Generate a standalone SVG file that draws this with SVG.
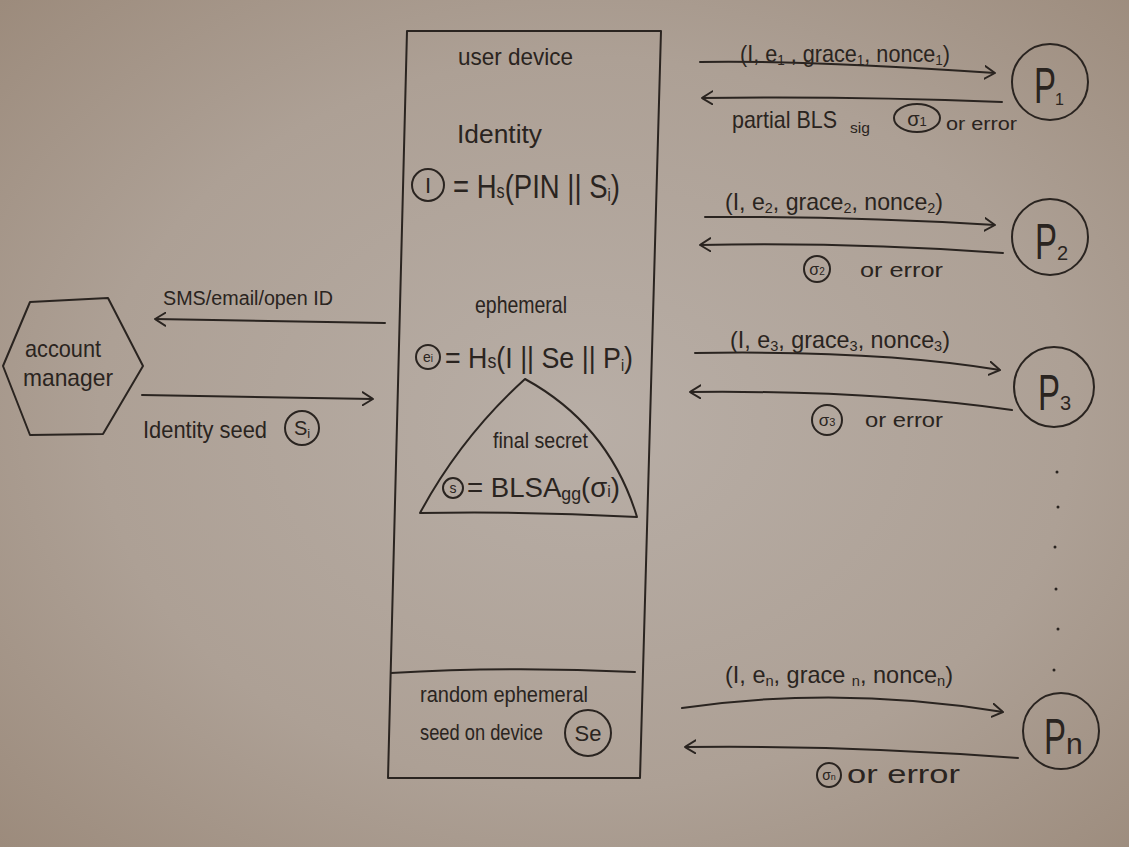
<svg xmlns="http://www.w3.org/2000/svg" width="1129" height="847" viewBox="0 0 1129 847">
  <defs>
    <radialGradient id="paper" cx="52%" cy="50%" r="72%">
      <stop offset="0" stop-color="#b8aea6"/>
      <stop offset="0.6" stop-color="#ada095"/>
      <stop offset="1" stop-color="#9c8b7c"/>
    </radialGradient>
    <marker id="head" viewBox="0 0 10 14" refX="10" refY="7" markerWidth="11" markerHeight="15" markerUnits="userSpaceOnUse" orient="auto">
      <path d="M0,0.8 L10,7 L0,13.2" fill="none" stroke="#2a2420" stroke-width="1.8" stroke-linecap="round" stroke-linejoin="round"/>
    </marker>
  </defs>
  <style>
    .ink { fill: none; stroke: #2a2420; stroke-width: 2; stroke-linecap: round; stroke-linejoin: round; }
    .arrow { fill: none; stroke: #2a2420; stroke-width: 2; stroke-linecap: round; marker-end: url(#head); }
    text { font-family: "Liberation Sans", "DejaVu Sans", sans-serif; fill: #2a2420; }
    .c { text-anchor: middle; }
    .sub { baseline-shift: -3px; }
  </style>

  <rect width="1129" height="847" fill="url(#paper)"/>

  <!-- account manager -->
  <g id="account-manager">
    <polygon class="ink" points="30,302 108,298 143,366 103,434 30,435 3,366"/>
    <text x="25" y="357" font-size="24" textLength="76" lengthAdjust="spacingAndGlyphs">account</text>
    <text x="23" y="386" font-size="24" textLength="90" lengthAdjust="spacingAndGlyphs">manager</text>
  </g>

  <!-- user device -->
  <g id="user-device">
    <polygon class="ink" points="407,31 661,31 640,778 388,778"/>
    <path class="ink" d="M391,673 Q510,666 635,672"/>
    <text x="458" y="65" font-size="24" textLength="115" lengthAdjust="spacingAndGlyphs">user device</text>

    <text x="457" y="143" font-size="26" textLength="85" lengthAdjust="spacingAndGlyphs">Identity</text>
    <circle class="ink" cx="428" cy="185" r="16"/>
    <text class="c" x="428" y="193" font-size="22">I</text>
    <text x="453" y="198" font-size="34" textLength="167" lengthAdjust="spacingAndGlyphs">= H<tspan font-size="20">s</tspan>(PIN || S<tspan font-size="18" class="sub">i</tspan>)</text>

    <text x="475" y="313" font-size="24" textLength="92" lengthAdjust="spacingAndGlyphs">ephemeral</text>
    <circle class="ink" cx="428" cy="357" r="12"/>
    <text class="c" x="428" y="362" font-size="14">e<tspan font-size="10">i</tspan></text>
    <text x="445" y="368" font-size="30" textLength="188" lengthAdjust="spacingAndGlyphs">= H<tspan font-size="20">s</tspan>(I || Se || P<tspan font-size="16" class="sub">i</tspan>)</text>

    <path class="ink" d="M525,379 Q609,425 637,517 Q528,511 420,513 Q461,437 525,379 Z"/>
    <text x="493" y="448" font-size="22" textLength="95" lengthAdjust="spacingAndGlyphs">final secret</text>
    <circle class="ink" cx="453" cy="488" r="10"/>
    <text class="c" x="453" y="493" font-size="14">s</text>
    <text x="467" y="497" font-size="28" textLength="153" lengthAdjust="spacingAndGlyphs">= BLSA<tspan font-size="18" class="sub">gg</tspan>(σ<tspan font-size="16">i</tspan>)</text>

    <text x="420" y="702" font-size="22" textLength="168" lengthAdjust="spacingAndGlyphs">random ephemeral</text>
    <text x="420" y="740" font-size="22" textLength="123" lengthAdjust="spacingAndGlyphs">seed on device</text>
    <circle class="ink" cx="588" cy="733" r="23"/>
    <text class="c" x="588" y="741" font-size="22">Se</text>
  </g>

  <!-- servers -->
  <g id="p1">
    <circle class="ink" cx="1050" cy="82" r="38"/>
    <text x="1034" y="103" font-size="50" textLength="22" lengthAdjust="spacingAndGlyphs">P</text>
    <text x="1055" y="105" font-size="16">1</text>
  </g>
  <g id="p2">
    <circle class="ink" cx="1050" cy="237" r="38"/>
    <text x="1035" y="259" font-size="50" textLength="22" lengthAdjust="spacingAndGlyphs">P</text>
    <text x="1057" y="260" font-size="20">2</text>
  </g>
  <g id="p3">
    <circle class="ink" cx="1054" cy="387" r="40"/>
    <text x="1038" y="410" font-size="50" textLength="22" lengthAdjust="spacingAndGlyphs">P</text>
    <text x="1060" y="410" font-size="20">3</text>
  </g>
  <g id="pn">
    <circle class="ink" cx="1061" cy="731" r="38"/>
    <text x="1044" y="754" font-size="50" textLength="22" lengthAdjust="spacingAndGlyphs">P</text>
    <text x="1066" y="754" font-size="30">n</text>
  </g>
  <g id="ellipsis" fill="#2a2420">
    <circle cx="1057" cy="472" r="1.5"/>
    <circle cx="1058" cy="507" r="1.5"/>
    <circle cx="1055" cy="547" r="1.5"/>
    <circle cx="1056" cy="589" r="1.5"/>
    <circle cx="1058" cy="629" r="1.5"/>
    <circle cx="1054" cy="670" r="1.5"/>
  </g>

  <!-- connectors -->
  <g id="connectors">
    <path class="arrow" d="M385,323 L155,319"/>
    <path class="arrow" d="M142,395 L373,399"/>

    <path class="arrow" d="M700,62 Q800,60 995,73"/>
    <path class="arrow" d="M1002,102 Q850,96 702,98"/>

    <path class="arrow" d="M705,217 Q850,216 995,225"/>
    <path class="arrow" d="M1003,253 Q850,242 700,245"/>

    <path class="arrow" d="M695,353 Q880,350 1000,370"/>
    <path class="arrow" d="M1012,410 Q870,390 690,392"/>

    <path class="arrow" d="M682,708 Q840,685 1003,712"/>
    <path class="arrow" d="M1018,758 Q850,745 685,747"/>
  </g>

  <!-- connector labels -->
  <g id="labels">
    <text x="163" y="305" font-size="20" textLength="170" lengthAdjust="spacingAndGlyphs">SMS/email/open ID</text>
    <text x="143" y="438" font-size="24" textLength="124" lengthAdjust="spacingAndGlyphs">Identity seed</text>
    <circle class="ink" cx="302" cy="428" r="17"/>
    <text class="c" x="302" y="435" font-size="20">S<tspan font-size="13" class="sub">i</tspan></text>

    <text x="740" y="62" font-size="24" textLength="210" lengthAdjust="spacingAndGlyphs">(I, e<tspan font-size="15" class="sub">1</tspan> , grace<tspan font-size="15" class="sub">1</tspan>, nonce<tspan font-size="15" class="sub">1</tspan>)</text>
    <text x="732" y="128" font-size="24" textLength="105" lengthAdjust="spacingAndGlyphs">partial BLS</text>
    <text x="850" y="133" font-size="15" textLength="20" lengthAdjust="spacingAndGlyphs">sig</text>
    <ellipse class="ink" cx="917" cy="118" rx="23" ry="14"/>
    <text class="c" x="917" y="126" font-size="20">σ<tspan font-size="13">1</tspan></text>
    <text x="946" y="130" font-size="18" textLength="71" lengthAdjust="spacingAndGlyphs">or error</text>

    <text x="725" y="210" font-size="24" textLength="218" lengthAdjust="spacingAndGlyphs">(I, e<tspan font-size="15" class="sub">2</tspan>, grace<tspan font-size="15" class="sub">2</tspan>, nonce<tspan font-size="15" class="sub">2</tspan>)</text>
    <circle class="ink" cx="817" cy="269" r="13"/>
    <text class="c" x="817" y="275" font-size="16">σ<tspan font-size="10">2</tspan></text>
    <text x="860" y="277" font-size="20" textLength="83" lengthAdjust="spacingAndGlyphs">or error</text>

    <text x="730" y="348" font-size="24" textLength="220" lengthAdjust="spacingAndGlyphs">(I, e<tspan font-size="15" class="sub">3</tspan>, grace<tspan font-size="15" class="sub">3</tspan>, nonce<tspan font-size="15" class="sub">3</tspan>)</text>
    <circle class="ink" cx="827" cy="420" r="15"/>
    <text class="c" x="827" y="426" font-size="17">σ<tspan font-size="11">3</tspan></text>
    <text x="865" y="427" font-size="20" textLength="78" lengthAdjust="spacingAndGlyphs">or error</text>

    <text x="725" y="683" font-size="24" textLength="228" lengthAdjust="spacingAndGlyphs">(I, e<tspan font-size="15" class="sub">n</tspan>, grace <tspan font-size="15" class="sub">n</tspan>, nonce<tspan font-size="15" class="sub">n</tspan>)</text>
    <circle class="ink" cx="829" cy="775" r="12"/>
    <text class="c" x="829" y="780" font-size="14">σ<tspan font-size="9">n</tspan></text>
    <text x="847" y="783" font-size="26" textLength="113" lengthAdjust="spacingAndGlyphs">or error</text>
  </g>
</svg>
